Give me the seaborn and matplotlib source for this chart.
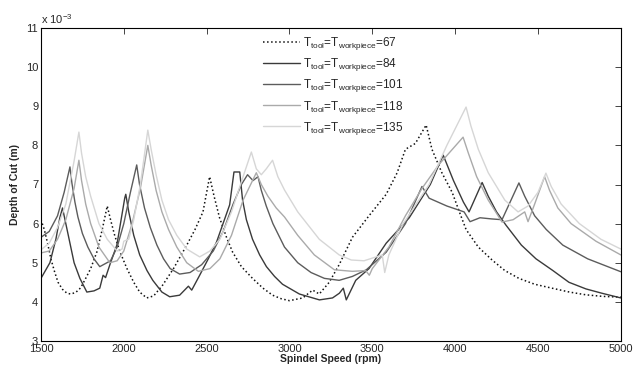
import matplotlib
matplotlib.use("Agg")
import matplotlib.pyplot as plt
import pandas as pd
import seaborn as sns

# Depth of cut (x 10^-3 m) vs spindle speed (rpm)
rpm_67 = [1500, 1520, 1540, 1560, 1580, 1603, 1630, 1657, 1680, 1710, 1740, 1770, 1800, 1837, 1870,
          1900, 1920, 1945, 1975, 2018, 2060, 2096, 2138, 2180, 2235, 2300, 2380, 2430, 2478, 2518,
          2545, 2578, 2620, 2657, 2710, 2777, 2840, 2898, 2950, 3000, 3080, 3140, 3180, 3240, 3300,
          3380, 3480, 3584, 3650, 3700, 3760, 3825, 3860, 3920, 3982, 4030, 4066, 4140, 4223, 4300,
          4385, 4480, 4584, 4690, 4789, 4890, 5000]
depth_67 = [6.1, 5.85, 5.5, 5.1, 4.8, 4.5, 4.32, 4.22, 4.2, 4.24, 4.36, 4.6, 4.85, 5.27, 5.85,
            6.45, 6.1, 5.7, 5.3, 4.86, 4.5, 4.25, 4.1, 4.15, 4.43, 4.85, 5.45, 5.85, 6.3, 7.2,
            6.7, 6.15, 5.65, 5.27, 4.9, 4.6, 4.35, 4.17, 4.08, 4.03, 4.1, 4.3, 4.2, 4.5, 4.95,
            5.65, 6.2, 6.75, 7.3, 7.9, 8.05, 8.52, 7.9, 7.3, 6.8, 6.25, 5.85, 5.4, 5.07, 4.8,
            4.6, 4.45, 4.35, 4.25, 4.18, 4.14, 4.12]

rpm_84 = [1500, 1554, 1590, 1614, 1630, 1650, 1670, 1700, 1735, 1777, 1820, 1855, 1875, 1890, 1916,
          1958, 2006, 2012, 2030, 2060, 2096, 2140, 2175, 2230, 2277, 2337, 2390, 2410, 2458, 2510,
          2560, 2639, 2665, 2700, 2717, 2740, 2777, 2820, 2861, 2910, 2958, 3060, 3181, 3260, 3301,
          3325, 3343, 3400, 3480, 3584, 3723, 3850, 3928, 3990, 4050, 4084, 4100, 4163, 4200, 4250,
          4307, 4400, 4488, 4590, 4687, 4790, 4886, 5000]
depth_84 = [4.6, 5.0, 5.6, 6.15, 6.4, 6.0, 5.6, 5.0, 4.6, 4.25, 4.28, 4.35, 4.68, 4.62, 4.95,
            5.45, 6.66, 6.75, 6.3, 5.7, 5.2, 4.8, 4.55, 4.25, 4.13, 4.17, 4.4, 4.3, 4.68, 5.1,
            5.53, 6.48, 7.32, 7.32, 6.6, 6.1, 5.6, 5.2, 4.9, 4.65, 4.45, 4.2, 4.05, 4.1, 4.22,
            4.35, 4.05, 4.55, 4.85, 5.5, 6.15, 7.0, 7.75, 7.1, 6.55, 6.3, 6.45, 7.05, 6.7, 6.3,
            5.96, 5.45, 5.1, 4.8, 4.5, 4.33, 4.22, 4.1]

rpm_101 = [1500, 1550, 1600, 1640, 1675, 1687, 1705, 1723, 1750, 1783, 1820, 1855, 1920, 1960, 2000,
           2040, 2078, 2095, 2125, 2160, 2200, 2240, 2280, 2337, 2400, 2470, 2540, 2600, 2660, 2710,
           2747, 2780, 2810, 2830, 2860, 2900, 2970, 3050, 3130, 3211, 3300, 3380, 3464, 3584, 3700,
           3800, 3843, 3950, 4054, 4090, 4150, 4220, 4283, 4385, 4420, 4480, 4550, 4650, 4800, 5000]
depth_101 = [5.65, 5.8, 6.2, 6.8, 7.45, 7.03, 6.55, 6.17, 5.75, 5.4, 5.1, 4.9, 5.05, 5.4, 6.0,
             6.8, 7.5, 7.0, 6.4, 5.9, 5.45, 5.1, 4.85, 4.71, 4.75, 4.95, 5.3, 5.8, 6.5, 7.0,
             7.25, 7.1, 7.2, 6.85, 6.45, 6.0, 5.4, 5.0, 4.75, 4.6, 4.55, 4.65, 4.82, 5.27, 6.0,
             6.95, 6.65, 6.45, 6.3, 6.05, 6.15, 6.12, 6.1, 7.04, 6.7, 6.2, 5.85, 5.45, 5.1, 4.77]

rpm_118 = [1500, 1550, 1600, 1650, 1700, 1729, 1745, 1770, 1800, 1850, 1916, 1960, 2000, 2050, 2100,
           2145, 2165, 2195, 2230, 2270, 2320, 2380, 2450, 2520, 2580, 2650, 2720, 2800, 2830, 2870,
           2920, 2970, 3050, 3150, 3271, 3380, 3460, 3482, 3500, 3600, 3700, 3800, 3900, 4048, 4080,
           4130, 4200, 4283, 4350, 4420, 4440, 4480, 4540, 4570, 4620, 4700, 4850, 5000]
depth_118 = [5.25, 5.3, 5.6, 6.1, 6.9, 7.62, 7.1, 6.5, 6.0, 5.4, 5.0, 5.05, 5.3, 6.0, 6.9,
             8.0, 7.5, 6.85, 6.3, 5.85, 5.4, 5.0, 4.78, 4.85, 5.1, 5.7, 6.6, 7.3, 7.0, 6.7,
             6.4, 6.17, 5.7, 5.2, 4.82, 4.78, 4.8, 4.68, 4.85, 5.4, 6.2, 6.9, 7.5, 8.21, 7.8,
             7.2, 6.6, 6.04, 6.1, 6.3, 6.05, 6.5, 7.2, 6.85, 6.4, 6.0, 5.55, 5.2]

rpm_135 = [1500, 1550, 1600, 1650, 1700, 1729, 1745, 1770, 1800, 1850, 1900, 1960, 1990, 2000, 2030,
           2060, 2100, 2145, 2165, 2195, 2230, 2270, 2320, 2380, 2458, 2520, 2580, 2650, 2720, 2770,
           2800, 2830, 2860, 2898, 2930, 2970, 3050, 3180, 3300, 3373, 3450, 3560, 3575, 3600, 3681,
           3843, 3950, 4066, 4095, 4140, 4200, 4300, 4380, 4440, 4500, 4548, 4580, 4640, 4750, 4880, 5000]
depth_135 = [5.33, 5.5, 5.9, 6.5, 7.6, 8.34, 7.8, 7.2, 6.7, 6.0, 5.6, 5.3, 5.35, 5.55, 5.6,
             6.1, 7.0, 8.39, 7.9, 7.25, 6.6, 6.1, 5.7, 5.35, 5.15, 5.3, 5.6, 6.3, 7.2, 7.83,
             7.4, 7.25, 7.4, 7.62, 7.2, 6.86, 6.3, 5.6, 5.2, 5.07, 5.05, 5.2, 4.75, 5.2, 5.96,
             7.0, 8.0, 8.98, 8.5, 7.9, 7.3, 6.6, 6.3, 6.45, 6.8, 7.29, 6.95, 6.5, 6.0, 5.6, 5.35]

temps = [67, 84, 101, 118, 135]
colors = ["#111111", "#3a3a3a", "#5c5c5c", "#aaaaaa", "#d6d6d6"]
styles = [":", "-", "-", "-", "-"]

series = {67: (rpm_67, depth_67), 84: (rpm_84, depth_84), 101: (rpm_101, depth_101),
          118: (rpm_118, depth_118), 135: (rpm_135, depth_135)}

sns.set_style("white")
plt.rcParams['font.family'] = ['Liberation Sans', 'DejaVu Sans']
plt.rcParams['mathtext.fontset'] = 'custom'
plt.rcParams['mathtext.rm'] = 'Liberation Sans'

fig = plt.figure(figsize=(6.4, 3.69), dpi=100)
ax = fig.add_axes([0.064, 0.076, 0.906, 0.848])

for t, c, ls in zip(temps, colors, styles):
    x, y = series[t]
    df = pd.DataFrame({"rpm": x, "depth": y})
    label = r"T$_{\rm tool}$=T$_{\rm workpiece}$=" + str(t)
    sns.lineplot(data=df, x="rpm", y="depth", ax=ax, color=c, linestyle=ls,
                 linewidth=1.1 if ls == ":" else 1.0, label=label, sort=False)

ax.set_xlim(1500, 5000)
ax.set_ylim(3, 11)
ax.set_xticks([1500, 2000, 2500, 3000, 3500, 4000, 4500, 5000])
ax.set_yticks([3, 4, 5, 6, 7, 8, 9, 10, 11])
ax.tick_params(direction="in", length=4, width=0.6, top=True, right=True, labelsize=8, pad=2)
for s in ax.spines.values():
    s.set_color("black")
    s.set_linewidth(0.8)

ax.set_xlabel("Spindel Speed (rpm)", fontsize=7.5, fontweight="bold", labelpad=0)
ax.set_ylabel("Depth of Cut (m)", fontsize=7.5, fontweight="bold", labelpad=4)
ax.text(0.0, 1.005, r"x 10$^{-3}$", transform=ax.transAxes, fontsize=8, va="bottom", ha="left")

leg = ax.legend(loc="upper left", bbox_to_anchor=(0.37, 1.0), frameon=False, fontsize=8.5,
                handlelength=3.2, labelspacing=0.35, handletextpad=0.2, borderaxespad=0.2)

fig.savefig("out.png", dpi=100)
